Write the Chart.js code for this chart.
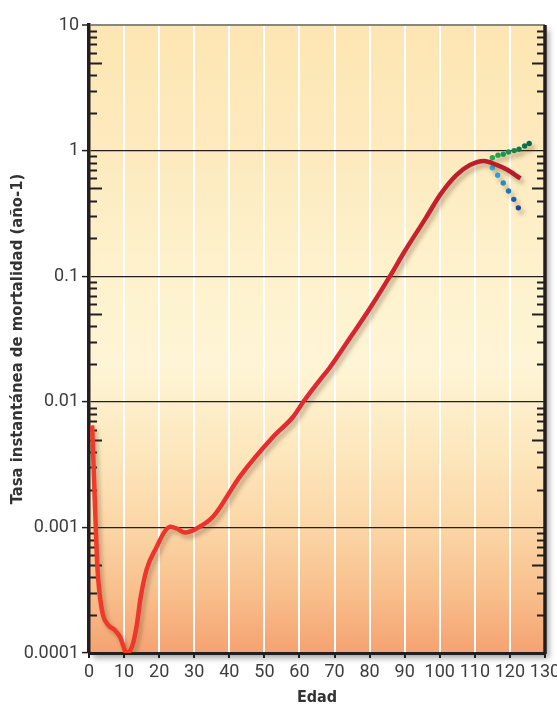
<!DOCTYPE html>
<html>
<head>
<meta charset="utf-8">
<script src="https://cdn.jsdelivr.net/npm/chart.js@4/dist/chart.umd.min.js"></script>
<style>
  html, body { margin: 0; padding: 0; background: #fff; }
</style>
</head>
<body>
<canvas id="mortality" width="557" height="708"></canvas>
<script>
// red curve: age (years) -> instantaneous mortality rate (per year)
const ages  = [0.9, 1.5, 2.0, 2.4, 3.0, 4.0, 5.5, 7.4, 8.9, 10.8, 12.3, 13.6, 14.6, 16.4, 19.3, 21.5, 23.2, 25.0, 27.4, 30.7, 35.4, 43.0, 52.5, 58.2, 61.1, 65.8, 68.5, 74.0, 80.0, 85.8, 90.0, 96.0, 100.3, 104.8, 108.6, 112.6, 116.2, 119.0, 123.0];
const rates = [0.0065, 0.0022, 0.0009, 0.00048, 0.0003, 0.0002, 0.000167, 0.000152, 0.000133, 0.0001, 0.000113, 0.000165, 0.000264, 0.00046, 0.0007, 0.00092, 0.00101, 0.00098, 0.00091, 0.00098, 0.00122, 0.00254, 0.00527, 0.0076, 0.01, 0.0149, 0.0185, 0.031, 0.055, 0.1, 0.158, 0.29, 0.452, 0.64, 0.767, 0.826, 0.77, 0.71, 0.6];

// dotted extrapolations after ~115 years
const greenAges  = [115.0, 116.6, 118.1, 119.6, 121.2, 122.6, 124.2, 125.5];
const greenRates = [0.877, 0.92, 0.935, 0.974, 1.0, 1.025, 1.087, 1.14];
const blueAges   = [115.0, 116.5, 118.1, 119.6, 121.1, 122.4];
const blueRates  = [0.731, 0.636, 0.552, 0.477, 0.409, 0.35];

const xTicks = [0, 10, 20, 30, 40, 50, 60, 70, 80, 90, 100, 110, 120, 130];
const yTicks = [0.0001, 0.001, 0.01, 0.1, 1, 10];

const toPts = (xs, ys) => xs.map((x, i) => ({ x: x, y: ys[i] }));

function mix(c1, c2, t) {
  const r = Math.round(c1[0] + (c2[0] - c1[0]) * t);
  const g = Math.round(c1[1] + (c2[1] - c1[1]) * t);
  const b = Math.round(c1[2] + (c2[2] - c1[2]) * t);
  return 'rgb(' + r + ',' + g + ',' + b + ')';
}

const narrow = "'Liberation Sans Narrow', 'DejaVu Sans Condensed', Roboto, sans-serif";

// plot background + drop shadow
const background = {
  id: 'background',
  beforeDraw(chart) {
    const { ctx, chartArea: a } = chart;
    const ys = chart.scales.y;
    ctx.save();
    ctx.fillStyle = '#ffffff';
    ctx.fillRect(0, 0, chart.width, chart.height);
    const g = ctx.createLinearGradient(0, a.top, 0, a.bottom);
    const stop = (v, c) => g.addColorStop(Math.min(1, Math.max(0, (ys.getPixelForValue(v) - a.top) / (a.bottom - a.top))), c);
    stop(10, '#fde6b2');
    stop(1, '#fdeabe');
    stop(0.1, '#fef2cd');
    stop(0.02, '#fef5d6');
    stop(0.004, '#fde7bd');
    stop(0.001, '#fbd6a6');
    stop(0.0003, '#f8bf8c');
    stop(0.0001, '#f5a271');
    ctx.shadowColor = 'rgba(0,0,0,0.35)';
    ctx.shadowBlur = 6;
    ctx.shadowOffsetX = 4;
    ctx.shadowOffsetY = 5;
    ctx.fillStyle = g;
    ctx.fillRect(a.left, a.top, a.right - a.left, a.bottom - a.top);
    ctx.restore();
  }
};

// minor log ticks on both sides + right axis line
const minorTicks = {
  id: 'minorTicks',
  beforeDatasetsDraw(chart) {
    const { ctx, chartArea: a } = chart;
    const ys = chart.scales.y;
    ctx.save();
    ctx.strokeStyle = '#231f20';
    ctx.lineWidth = 2.2;
    for (let d = 0.0001; d < 9; d *= 10) {
      for (let m = 2; m <= 9; m++) {
        const y = Math.round(ys.getPixelForValue(m * d)) + 0.5;
        const len = m === 5 ? 13 : 8;
        ctx.beginPath();
        ctx.moveTo(a.left, y);
        ctx.lineTo(a.left + len, y);
        ctx.moveTo(a.right, y);
        ctx.lineTo(a.right - len, y);
        ctx.stroke();
      }
    }
    ctx.restore();
  },
  afterDraw(chart) {
    const { ctx, chartArea: a } = chart;
    ctx.save();
    ctx.strokeStyle = '#231f20';
    ctx.lineWidth = 3.5;
    ctx.beginPath();
    ctx.moveTo(a.right, a.top);
    ctx.lineTo(a.right, a.bottom + 1);
    ctx.stroke();
    ctx.restore();
  }
};

// soft shadow under the curve and dots
const curveShadow = {
  id: 'curveShadow',
  beforeDatasetDraw(chart) {
    const ctx = chart.ctx;
    ctx.save();
    ctx.shadowColor = 'rgba(90,60,30,0.35)';
    ctx.shadowBlur = 4;
    ctx.shadowOffsetX = 3;
    ctx.shadowOffsetY = 4;
  },
  afterDatasetDraw(chart) {
    chart.ctx.restore();
  }
};

function redGradient(c) {
  const a = c.chart.chartArea;
  if (!a) return '#d9262b';
  const g = c.chart.ctx.createLinearGradient(a.left, 0, a.right, 0);
  g.addColorStop(0, '#f03a2a');
  g.addColorStop(0.3, '#ec3030');
  g.addColorStop(0.5, '#de2833');
  g.addColorStop(0.75, '#c41f2e');
  g.addColorStop(1, '#b01c28');
  return g;
}

new Chart(document.getElementById('mortality'), {
  type: 'line',
  data: {
    datasets: [{
      data: toPts(ages, rates),
      borderColor: redGradient,
      borderWidth: 4.5,
      pointRadius: 0,
      cubicInterpolationMode: 'monotone',
      borderCapStyle: 'butt',
      fill: false
    }, {
      data: toPts(greenAges, greenRates),
      showLine: false,
      pointRadius: 2.7,
      pointBorderWidth: 0,
      pointBackgroundColor: c => mix([40, 170, 75], [8, 105, 72], c.dataIndex / (greenAges.length - 1))
    }, {
      data: toPts(blueAges, blueRates),
      showLine: false,
      pointRadius: 2.7,
      pointBorderWidth: 0,
      pointBackgroundColor: c => mix([40, 185, 236], [30, 70, 150], c.dataIndex / (blueAges.length - 1))
    }]
  },
  options: {
    responsive: false,
    animation: false,
    layout: { padding: { top: 25, right: 12, left: 0, bottom: 0 } },
    plugins: {
      legend: { display: false },
      tooltip: { enabled: false }
    },
    scales: {
      x: {
        type: 'linear',
        min: 0,
        max: 130,
        afterBuildTicks: s => { s.ticks = xTicks.map(v => ({ value: v })); },
        ticks: {
          color: '#3d3d3d',
          font: { family: 'Roboto', size: 18 },
          padding: 4,
          maxRotation: 0
        },
        grid: {
          color: c => (c.tick && (c.tick.value === 0 || c.tick.value === 130)) ? 'rgba(0,0,0,0)' : '#ffffff',
          lineWidth: 2,
          tickColor: '#231f20',
          tickLength: 5,
          tickWidth: 2
        },
        border: { color: '#231f20', width: 3 },
        title: {
          display: true,
          text: 'Edad',
          color: '#333333',
          font: { family: narrow, size: 16, weight: 'bold' },
          padding: { top: 0, bottom: 1 }
        },
        afterFit: s => { s.height = 55; s.paddingLeft = 0; s.paddingRight = 0; }
      },
      y: {
        type: 'logarithmic',
        min: 0.0001,
        max: 10,
        afterBuildTicks: s => { s.ticks = yTicks.map(v => ({ value: v })); },
        ticks: {
          color: '#3d3d3d',
          font: { family: 'Roboto', size: 18 },
          padding: 3,
          callback: v => String(v)
        },
        grid: {
          color: c => (c.tick && c.tick.value === 10) ? '#8a8580' : '#231f20',
          lineWidth: c => (c.tick && c.tick.value === 10) ? 2 : 1.2,
          tickColor: '#231f20',
          tickLength: 7,
          tickWidth: 1.5
        },
        border: { color: '#231f20', width: 3.5 },
        title: {
          display: true,
          text: 'Tasa instantánea de mortalidad (año-1)',
          color: '#333333',
          font: { family: narrow, size: 16.5, weight: 'bold' },
          padding: { top: 8, bottom: 0 }
        },
        afterFit: s => { s.width = 89; s.paddingTop = 0; s.paddingBottom = 0; }
      }
    }
  },
  plugins: [background, minorTicks, curveShadow]
});
</script>
</body>
</html>
